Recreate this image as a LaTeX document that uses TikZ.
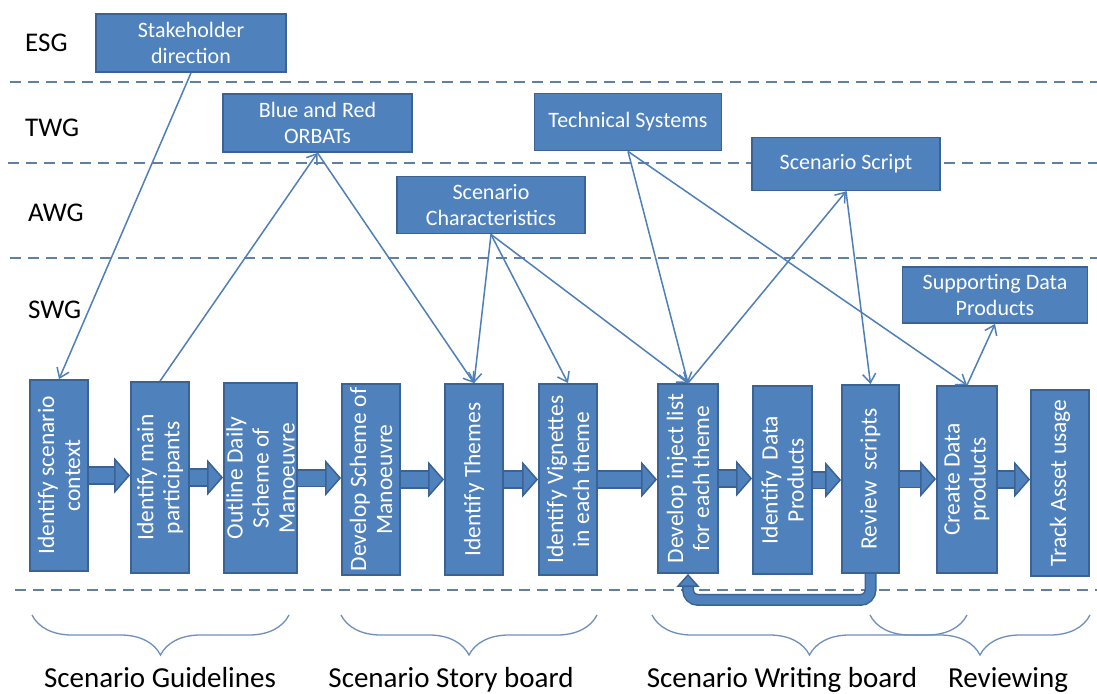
\documentclass[tikz,border=0pt]{standalone}
\usepackage{fontspec}
\setmainfont{Carlito}
\usetikzlibrary{arrows.meta,decorations.pathreplacing}
\definecolor{boxblue}{HTML}{4F81BD}
\definecolor{boxline}{HTML}{3A6393}
\definecolor{linkblue}{HTML}{4F7FB8}
\definecolor{lanecol}{HTML}{5E7FA6}
\definecolor{bracecol}{HTML}{6E8FBD}
\newcommand\bxfont{\fontsize{22}{26}\selectfont}
\newcommand\vtfont{\fontsize{23.5}{26}\selectfont}
\newcommand\lnfont{\fontsize{27}{32}\selectfont}
\newcommand\phfont{\fontsize{29}{34}\selectfont}

\begin{document}
\begin{tikzpicture}[x=1pt,y=-1pt,
  hbox/.style={draw=boxline, fill=boxblue, line width=1.8pt, text=white,
    align=center, inner sep=0pt, font=\bxfont},
  vbox/.style={draw=boxline, fill=boxblue, line width=1.8pt, inner sep=0pt},
  vtext/.style={rotate=90, text=white, align=center, inner sep=0pt, font=\vtfont},
  link/.style={draw=linkblue, line width=1.5pt,
    -{Straight Barb[length=9pt,width=13pt]}},
  lane/.style={draw=lanecol, line width=2.2pt, dash pattern=on 11pt off 7pt},
  lanelabel/.style={anchor=west, inner sep=0pt, font=\lnfont},
  flow/.style={draw=boxblue, line width=15pt,
    -{Triangle[width=36pt,length=16pt,fill=boxblue,color=boxline,line width=1.5pt]},
    preaction={draw=boxline, line width=18.5pt, -, shorten >=12pt}},
  loopback/.style={draw=boxblue, line width=9pt, rounded corners=10pt,
    -{Triangle[width=23pt,length=13pt,fill=boxblue,color=boxline,line width=1.5pt]},
    preaction={draw=boxline, line width=12pt, -, shorten >=10pt}},
  phasebrace/.style={draw=bracecol, line width=1.3pt, decorate,
    decoration={brace, mirror, amplitude=40pt}},
  phase/.style={anchor=base, inner sep=0pt, font=\phfont}]
\useasboundingbox (0,0) rectangle (1097,693);
\fill[white] (0,0) rectangle (1097,693);

% swim-lane separators
\draw[lane] (10,82) -- (1097,82);
\draw[lane] (8,163) -- (1097,163);
\draw[lane] (10,258) -- (1097,258);
\draw[lane] (15,590) -- (1097,590);

% lane names
\node[lanelabel] (esg) at (25,43) {ESG};
\node[lanelabel] (twg) at (25,128) {TWG};
\node[lanelabel] (awg) at (28,213) {AWG};
\node[lanelabel] (swg) at (28,310) {SWG};

% inputs and outputs
\node[hbox, minimum width=190pt, minimum height=58pt] (stake) at (191,43) {Stakeholder\\direction};
\node[hbox, minimum width=189pt, minimum height=58pt] (orbat) at (317.5,123) {Blue and Red\\ORBATs};
\node[hbox, minimum width=187pt, minimum height=57pt] (tech) at (628,122) {Technical Systems};
\node[hbox, minimum width=188pt, minimum height=53pt] (script) at (846,164) {Scenario Script};
\node[hbox, minimum width=188pt, minimum height=57pt] (chars) at (491,205) {Scenario\\Characteristics};
\node[hbox, minimum width=185pt, minimum height=56pt] (support) at (995,295) {Supporting Data\\Products};

% process steps
\node[vbox, minimum width=58pt, minimum height=191pt] (ctx) at (59,475.5) {};
\node[vtext] (ctx-t) at (ctx) {Identify scenario\\context};
\node[vbox, minimum width=58pt, minimum height=191pt] (parts) at (160,477.5) {};
\node[vtext] (parts-t) at (parts) {Identify main\\participants};
\node[vbox, minimum width=73pt, minimum height=190pt] (daily) at (260.5,478) {};
\node[vtext] (daily-t) at (daily) {Outline Daily\\Scheme of\\Manoeuvre};
\node[vbox, minimum width=58pt, minimum height=191pt] (devsch) at (371,479.5) {};
\node[vtext] (devsch-t) at (devsch) {Develop Scheme of\\Manoeuvre};
\node[vbox, minimum width=58pt, minimum height=191pt] (themes) at (474,479.5) {};
\node[vtext] (themes-t) at (themes) {Identify Themes};
\node[vbox, minimum width=58pt, minimum height=191pt] (vign) at (568,479.5) {};
\node[vtext] (vign-t) at (vign) {Identify Vignettes\\in each theme};
\node[vbox, minimum width=60pt, minimum height=189pt] (inj) at (688,478.5) {};
\node[vtext] (inj-t) at (inj) {Develop inject list\\for each theme};
\node[vbox, minimum width=59pt, minimum height=188pt] (idp) at (782.5,480) {};
\node[vtext] (idp-t) at (idp) {Identify\ \ Data\\Products};
\node[vbox, minimum width=57pt, minimum height=188pt] (rev) at (870.5,479) {};
\node[vtext] (rev-t) at (rev) {Review\ \ scripts};
\node[vbox, minimum width=60pt, minimum height=187pt] (create) at (967,479.5) {};
\node[vtext] (create-t) at (create) {Create Data\\products};
\node[vbox, minimum width=58pt, minimum height=186pt] (track) at (1060,483) {};
\node[vtext] (track-t) at (track) {Track Asset usage};

% main flow
\draw[flow] (ctx.east) -- (ctx.east -| parts.west);
\draw[flow] (parts.east) -- (parts.east -| daily.west);
\draw[flow] (daily.east) -- (daily.east -| devsch.west);
\draw[flow] (devsch.east) -- (devsch.east -| themes.west);
\draw[flow] (themes.east) -- (themes.east -| vign.west);
\draw[flow] (vign.east) -- (vign.east -| inj.west);
\draw[flow] (inj.east) -- (inj.east -| idp.west);
\draw[flow] (idp.east) -- (idp.east -| rev.west);
\draw[flow] (rev.east) -- (rev.east -| create.west);
\draw[flow] (create.east) -- (create.east -| track.west);

% review feeds back into the inject list
\draw[loopback] (rev.south) -- ++(0,26) -| (inj.south);

% information links
\draw[link] (stake.south) -- (ctx.north);
\draw[link] (parts.north) -- (orbat.south);
\draw[link] (orbat.south) -- (themes.north);
\draw[link] (chars.south) -- (themes.north);
\draw[link] (chars.south) -- (vign.north);
\draw[link] (chars.south) -- (inj.north);
\draw[link] (tech.south) -- (inj.north);
\draw[link] (inj.north) -- (script.south);
\draw[link] (script.south) -- (rev.north);
\draw[link] (tech.south) -- (create.north);
\draw[link] (create.north) -- (support.south);

% phases
\draw[phasebrace] (32,615) -- (289,615);
\draw[phasebrace] (341,615) -- (597,615);
\draw[phasebrace] (652,615) -- (967,615);
\draw[phasebrace] (870,615) -- (1090,615);
\node[phase] (ph1) at (160,687) {Scenario Guidelines};
\node[phase] (ph2) at (451,687) {Scenario Story board};
\node[phase] (ph3) at (782,687) {Scenario Writing board};
\node[phase] (ph4) at (1008,687) {Reviewing};
\end{tikzpicture}
\end{document}
